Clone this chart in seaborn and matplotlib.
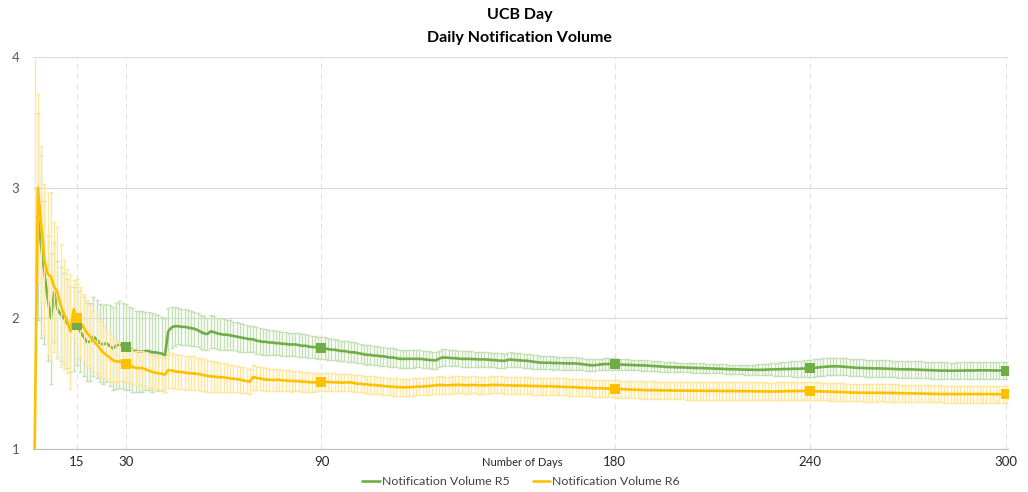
import numpy as np
import pandas as pd
import matplotlib
matplotlib.use("Agg")
import matplotlib.pyplot as plt
import seaborn as sns

# days 2..300 (first row holds days 2-10, then rows of ten days)
days = list(range(2, 301))

r5_mean = [
    np.nan, 2.78, 2.55, 2.35, 2.15, 2.00, 2.20, 2.07, 2.03,
    2.00, 1.96, 1.92, 1.92, 1.95, 1.90, 1.86, 1.82, 1.82, 1.86,
    1.84, 1.81, 1.80, 1.81, 1.79, 1.77, 1.79, 1.80, 1.79, 1.78,
    1.77, 1.76, 1.75, 1.745, 1.745, 1.75, 1.75, 1.74, 1.74, 1.735,
    1.73, 1.72, 1.90, 1.93, 1.94, 1.94, 1.935, 1.935, 1.93, 1.925,
    1.92, 1.91, 1.895, 1.885, 1.88, 1.90, 1.895, 1.885, 1.88, 1.875,
    1.875, 1.87, 1.865, 1.86, 1.855, 1.85, 1.845, 1.84, 1.84, 1.83,
    1.825, 1.82, 1.82, 1.815, 1.815, 1.81, 1.81, 1.805, 1.805, 1.80,
    1.80, 1.80, 1.795, 1.79, 1.79, 1.785, 1.78, 1.78, 1.775, 1.775,
    1.77, 1.765, 1.76, 1.76, 1.755, 1.75, 1.75, 1.745, 1.74, 1.74,
    1.735, 1.73, 1.725, 1.72, 1.72, 1.715, 1.715, 1.71, 1.71, 1.705,
    1.70, 1.70, 1.695, 1.69, 1.69, 1.69, 1.69, 1.69, 1.69, 1.69,
    1.688, 1.685, 1.682, 1.68, 1.678, 1.69, 1.70, 1.70, 1.698, 1.695,
    1.695, 1.692, 1.69, 1.69, 1.69, 1.688, 1.688, 1.686, 1.686, 1.686,
    1.684, 1.682, 1.68, 1.678, 1.676, 1.675, 1.68, 1.685, 1.682, 1.68,
    1.678, 1.676, 1.675, 1.672, 1.668, 1.665, 1.662, 1.66, 1.66, 1.66,
    1.658, 1.658, 1.657, 1.656, 1.656, 1.655, 1.655, 1.655, 1.652, 1.65,
    1.646, 1.643, 1.64, 1.642, 1.645, 1.648, 1.65, 1.65, 1.65, 1.65,
    1.648, 1.646, 1.645, 1.644, 1.643, 1.642, 1.641, 1.64, 1.64, 1.638,
    1.636, 1.635, 1.633, 1.632, 1.63, 1.628, 1.627, 1.626, 1.625, 1.625,
    1.624, 1.623, 1.622, 1.621, 1.62, 1.62, 1.619, 1.618, 1.617, 1.616,
    1.615, 1.614, 1.613, 1.612, 1.611, 1.61, 1.61, 1.609, 1.608, 1.608,
    1.607, 1.607, 1.606, 1.606, 1.606, 1.607, 1.608, 1.609, 1.61, 1.61,
    1.611, 1.612, 1.612, 1.613, 1.614, 1.614, 1.615, 1.616, 1.616, 1.617,
    1.62, 1.623, 1.626, 1.628, 1.63, 1.632, 1.633, 1.633, 1.632, 1.63,
    1.628, 1.626, 1.624, 1.622, 1.621, 1.62, 1.619, 1.618, 1.617, 1.617,
    1.617, 1.616, 1.615, 1.614, 1.613, 1.612, 1.611, 1.61, 1.61, 1.61,
    1.609, 1.608, 1.607, 1.606, 1.605, 1.604, 1.603, 1.602, 1.601, 1.60,
    1.60, 1.60, 1.599, 1.599, 1.60, 1.60, 1.60, 1.601, 1.601, 1.601,
    1.602, 1.602, 1.602, 1.602, 1.602, 1.601, 1.601, 1.60, 1.60, 1.60,
]

r5_err = [
    np.nan, 0.79, 0.70, 0.55, 0.48, 0.50, 0.38, 0.37, 0.36,
    0.35, 0.34, 0.33, 0.32, 0.31, 0.31, 0.30, 0.30, 0.30, 0.30,
    0.30, 0.30, 0.30, 0.30, 0.31, 0.32, 0.33, 0.33, 0.33, 0.33,
    0.32, 0.32, 0.31, 0.31, 0.31, 0.30, 0.30, 0.30, 0.29, 0.29,
    0.28, 0.28, 0.18, 0.16, 0.15, 0.14, 0.14, 0.14, 0.135, 0.135,
    0.13, 0.13, 0.13, 0.13, 0.125, 0.125, 0.12, 0.12, 0.12, 0.12,
    0.115, 0.115, 0.11, 0.11, 0.11, 0.105, 0.105, 0.10, 0.10, 0.10,
    0.10, 0.098, 0.097, 0.096, 0.095, 0.094, 0.093, 0.092, 0.091, 0.09,
    0.09, 0.09, 0.089, 0.088, 0.087, 0.086, 0.085, 0.085, 0.085, 0.085,
    0.084, 0.083, 0.082, 0.081, 0.08, 0.08, 0.079, 0.078, 0.077, 0.076,
    0.075, 0.075, 0.074, 0.074, 0.073, 0.073, 0.072, 0.072, 0.071, 0.071,
    0.07, 0.07, 0.069, 0.069, 0.068, 0.068, 0.067, 0.067, 0.066, 0.066,
    0.065, 0.065, 0.065, 0.064, 0.064, 0.063, 0.063, 0.062, 0.062, 0.061,
    0.061, 0.06, 0.06, 0.06, 0.059, 0.059, 0.058, 0.058, 0.057, 0.057,
    0.057, 0.056, 0.056, 0.056, 0.055, 0.055, 0.055, 0.054, 0.054, 0.054,
    0.053, 0.053, 0.053, 0.052, 0.052, 0.052, 0.051, 0.051, 0.05, 0.05,
    0.05, 0.049, 0.049, 0.048, 0.048, 0.048, 0.047, 0.047, 0.046, 0.046,
    0.046, 0.045, 0.045, 0.045, 0.044, 0.044, 0.044, 0.043, 0.043, 0.043,
    0.042, 0.042, 0.042, 0.041, 0.041, 0.041, 0.04, 0.04, 0.04, 0.04,
    0.039, 0.039, 0.039, 0.039, 0.038, 0.038, 0.038, 0.038, 0.037, 0.037,
    0.037, 0.037, 0.036, 0.036, 0.036, 0.036, 0.036, 0.035, 0.035, 0.035,
    0.035, 0.035, 0.035, 0.035, 0.035, 0.036, 0.036, 0.037, 0.037, 0.038,
    0.038, 0.039, 0.04, 0.041, 0.042, 0.043, 0.044, 0.046, 0.048, 0.05,
    0.052, 0.054, 0.056, 0.058, 0.06, 0.061, 0.062, 0.063, 0.064, 0.065,
    0.066, 0.066, 0.066, 0.066, 0.066, 0.066, 0.066, 0.066, 0.065, 0.065,
    0.065, 0.065, 0.065, 0.065, 0.065, 0.065, 0.065, 0.065, 0.065, 0.065,
    0.065, 0.065, 0.065, 0.064, 0.064, 0.064, 0.064, 0.064, 0.064, 0.064,
    0.064, 0.064, 0.064, 0.064, 0.064, 0.064, 0.064, 0.064, 0.064, 0.064,
    0.064, 0.064, 0.063, 0.063, 0.063, 0.063, 0.063, 0.063, 0.063, 0.063,
    0.063, 0.063, 0.063, 0.063, 0.063, 0.063, 0.063, 0.063, 0.063, 0.063,
]

r6_mean = [
    1.00, 3.00, 2.72, 2.45, 2.34, 2.32, 2.24, 2.20, 2.10,
    2.03, 1.98, 1.90, 2.07, 2.00, 1.97, 1.93, 1.89, 1.86, 1.83,
    1.80, 1.77, 1.74, 1.72, 1.70, 1.68, 1.67, 1.67, 1.66, 1.65,
    1.64, 1.63, 1.62, 1.62, 1.62, 1.61, 1.60, 1.59, 1.585, 1.58,
    1.575, 1.57, 1.605, 1.60, 1.595, 1.59, 1.59, 1.585, 1.58, 1.58,
    1.578, 1.575, 1.57, 1.565, 1.56, 1.555, 1.555, 1.55, 1.55, 1.548,
    1.545, 1.54, 1.538, 1.535, 1.53, 1.525, 1.52, 1.515, 1.55, 1.545,
    1.54, 1.535, 1.53, 1.53, 1.528, 1.528, 1.53, 1.525, 1.525, 1.522,
    1.52, 1.52, 1.518, 1.515, 1.515, 1.512, 1.51, 1.51, 1.512, 1.515,
    1.515, 1.512, 1.512, 1.51, 1.51, 1.508, 1.508, 1.51, 1.51, 1.505,
    1.50, 1.50, 1.495, 1.495, 1.49, 1.49, 1.487, 1.485, 1.483, 1.48,
    1.478, 1.476, 1.475, 1.473, 1.472, 1.472, 1.473, 1.475, 1.476, 1.477,
    1.478, 1.48, 1.482, 1.485, 1.487, 1.49, 1.49, 1.488, 1.488, 1.49,
    1.49, 1.492, 1.49, 1.488, 1.488, 1.49, 1.49, 1.488, 1.487, 1.487,
    1.488, 1.49, 1.49, 1.49, 1.49, 1.488, 1.487, 1.487, 1.486, 1.486,
    1.485, 1.485, 1.484, 1.483, 1.482, 1.482, 1.481, 1.48, 1.48, 1.48,
    1.479, 1.478, 1.477, 1.476, 1.475, 1.474, 1.473, 1.472, 1.47, 1.47,
    1.468, 1.467, 1.466, 1.465, 1.465, 1.464, 1.463, 1.462, 1.461, 1.46,
    1.46, 1.458, 1.457, 1.456, 1.455, 1.454, 1.453, 1.452, 1.451, 1.45,
    1.45, 1.45, 1.449, 1.449, 1.448, 1.448, 1.448, 1.447, 1.447, 1.447,
    1.447, 1.446, 1.446, 1.446, 1.446, 1.446, 1.445, 1.445, 1.445, 1.445,
    1.445, 1.445, 1.444, 1.444, 1.444, 1.444, 1.443, 1.443, 1.443, 1.443,
    1.442, 1.442, 1.442, 1.441, 1.441, 1.441, 1.44, 1.44, 1.44, 1.441,
    1.441, 1.442, 1.442, 1.443, 1.443, 1.444, 1.444, 1.444, 1.444, 1.444,
    1.443, 1.442, 1.441, 1.44, 1.44, 1.439, 1.438, 1.437, 1.436, 1.435,
    1.434, 1.433, 1.432, 1.432, 1.431, 1.431, 1.43, 1.43, 1.43, 1.43,
    1.43, 1.43, 1.429, 1.429, 1.428, 1.428, 1.428, 1.427, 1.427, 1.426,
    1.426, 1.425, 1.425, 1.424, 1.424, 1.423, 1.422, 1.422, 1.421, 1.421,
    1.42, 1.42, 1.42, 1.42, 1.42, 1.42, 1.42, 1.42, 1.42, 1.42,
    1.42, 1.42, 1.42, 1.42, 1.42, 1.42, 1.42, 1.42, 1.42, 1.42,
]

r6_err = [
    3.30, 0.72, 0.60, 0.58, 0.62, 0.65, 0.50, 0.50, 0.47,
    0.42, 0.40, 0.44, 0.22, 0.30, 0.27, 0.26, 0.25, 0.24, 0.23,
    0.22, 0.21, 0.20, 0.19, 0.18, 0.17, 0.16, 0.15, 0.14, 0.135,
    0.135, 0.135, 0.13, 0.13, 0.13, 0.13, 0.13, 0.13, 0.13, 0.13,
    0.13, 0.13, 0.135, 0.135, 0.135, 0.13, 0.13, 0.13, 0.13, 0.13,
    0.13, 0.125, 0.125, 0.12, 0.12, 0.12, 0.115, 0.115, 0.11, 0.11,
    0.11, 0.105, 0.105, 0.10, 0.10, 0.10, 0.095, 0.095, 0.095, 0.09,
    0.09, 0.09, 0.088, 0.086, 0.085, 0.084, 0.083, 0.082, 0.081, 0.08,
    0.08, 0.078, 0.077, 0.076, 0.075, 0.074, 0.073, 0.072, 0.071, 0.07,
    0.07, 0.069, 0.068, 0.068, 0.067, 0.067, 0.066, 0.066, 0.065, 0.065,
    0.065, 0.065, 0.065, 0.066, 0.066, 0.066, 0.067, 0.067, 0.067, 0.067,
    0.067, 0.067, 0.066, 0.066, 0.066, 0.066, 0.066, 0.066, 0.066, 0.066,
    0.066, 0.066, 0.066, 0.066, 0.066, 0.066, 0.066, 0.066, 0.066, 0.066,
    0.065, 0.065, 0.065, 0.065, 0.065, 0.065, 0.065, 0.065, 0.065, 0.065,
    0.065, 0.065, 0.065, 0.065, 0.065, 0.065, 0.065, 0.065, 0.065, 0.065,
    0.065, 0.065, 0.065, 0.065, 0.065, 0.065, 0.065, 0.065, 0.065, 0.065,
    0.065, 0.065, 0.065, 0.065, 0.065, 0.065, 0.065, 0.065, 0.065, 0.065,
    0.065, 0.065, 0.065, 0.065, 0.065, 0.065, 0.065, 0.065, 0.065, 0.065,
    0.066, 0.066, 0.066, 0.066, 0.066, 0.066, 0.066, 0.066, 0.066, 0.066,
    0.067, 0.067, 0.067, 0.067, 0.067, 0.067, 0.067, 0.067, 0.067, 0.067,
    0.068, 0.068, 0.068, 0.068, 0.068, 0.068, 0.068, 0.068, 0.068, 0.068,
    0.068, 0.068, 0.068, 0.068, 0.068, 0.068, 0.068, 0.068, 0.068, 0.068,
    0.068, 0.068, 0.068, 0.068, 0.068, 0.068, 0.068, 0.068, 0.068, 0.068,
    0.068, 0.068, 0.068, 0.068, 0.068, 0.068, 0.068, 0.068, 0.068, 0.068,
    0.068, 0.068, 0.068, 0.068, 0.068, 0.068, 0.068, 0.068, 0.068, 0.068,
    0.067, 0.067, 0.067, 0.067, 0.067, 0.067, 0.067, 0.067, 0.067, 0.067,
    0.066, 0.066, 0.066, 0.066, 0.066, 0.066, 0.066, 0.066, 0.066, 0.066,
    0.065, 0.065, 0.065, 0.065, 0.065, 0.065, 0.065, 0.065, 0.065, 0.065,
    0.065, 0.065, 0.065, 0.065, 0.065, 0.065, 0.065, 0.065, 0.065, 0.065,
    0.065, 0.065, 0.065, 0.065, 0.065, 0.065, 0.065, 0.065, 0.065, 0.065,
]

marker_days = [15, 30, 90, 180, 240, 300]
tick_days = [15, 30, 90, 180, 240, 300]

green = "#70AD47"
green_light = "#C5E0B4"
yellow = "#FFC000"
yellow_light = "#FFE699"

df = pd.DataFrame({"day": days, "R5": r5_mean, "R5_err": r5_err,
                   "R6": r6_mean, "R6_err": r6_err})
marks = df[df["day"].isin(marker_days)]

sns.set_style("white")
plt.rcParams["font.family"] = ["Lato", "DejaVu Sans"]

fig = plt.figure(figsize=(10.28, 4.92), dpi=100)
ax = fig.add_axes([0.0321, 0.0874, 0.9484, 0.7967])

# error bars then lines, series R5 first like the original
ax.errorbar(df["day"], df["R5"], yerr=df["R5_err"], fmt="none",
            ecolor=green_light, elinewidth=1.0, capsize=1.6, capthick=1.0, zorder=2)
sns.lineplot(data=df, x="day", y="R5", color=green, lw=1.9, ax=ax,
             label="Notification Volume R5", zorder=3)
ax.errorbar(df["day"], df["R6"], yerr=df["R6_err"], fmt="none",
            ecolor=yellow_light, elinewidth=1.0, capsize=1.6, capthick=1.0, zorder=4)
sns.lineplot(data=df, x="day", y="R6", color=yellow, lw=1.9, ax=ax,
             label="Notification Volume R6", zorder=5)
sns.scatterplot(data=marks, x="day", y="R5", marker="s", s=50, color=green,
                edgecolor=green, linewidth=0, ax=ax, legend=False, zorder=6)
sns.scatterplot(data=marks, x="day", y="R6", marker="s", s=50, color=yellow,
                edgecolor=yellow, linewidth=0, ax=ax, legend=False, zorder=7)

ax.set_xlim(1.5, 300.6)
ax.set_ylim(1, 4)
ax.set_xticks(tick_days)
ax.set_yticks([1, 2, 3, 4])
ax.set_xlabel("")
ax.set_ylabel("")

ax.yaxis.grid(True, color="#D9D9D9", lw=0.8)
ax.xaxis.grid(True, color="#E3E3E3", lw=0.8, ls=(0, (5, 4)))
ax.set_axisbelow(True)
for s in ["top", "right", "left"]:
    ax.spines[s].set_visible(False)
ax.spines["bottom"].set_color("#BFBFBF")
ax.spines["bottom"].set_linewidth(0.8)

ax.tick_params(axis="x", direction="inout", length=6, width=0.8, color="#A6A6A6",
               labelsize=9.5, labelcolor="#262626", pad=2)
ax.tick_params(axis="y", length=0, labelsize=9.5, labelcolor="#595959", pad=10)

fig.text(0.506, 1 - 15 / 492, "UCB Day", ha="center", va="center",
         fontsize=11.5, fontweight="bold", color="#000000")
fig.text(0.505, 1 - 38 / 492, "Daily Notification Volume", ha="center", va="center",
         fontsize=11.5, fontweight="bold", color="#000000")
fig.text(522 / 1028, 1 - 463 / 492, "Number of Days", ha="center", va="center",
         fontsize=8, color="#262626")

handles, labels = ax.get_legend_handles_labels()
ax.get_legend().remove()
fig.legend(handles, labels, loc="center", bbox_to_anchor=(0.507, 0.021), ncol=2,
           frameon=False, fontsize=8.9, handlelength=1.4, handletextpad=0.2,
           columnspacing=1.85, labelcolor="#404040")

fig.savefig("out.png", dpi=100)
